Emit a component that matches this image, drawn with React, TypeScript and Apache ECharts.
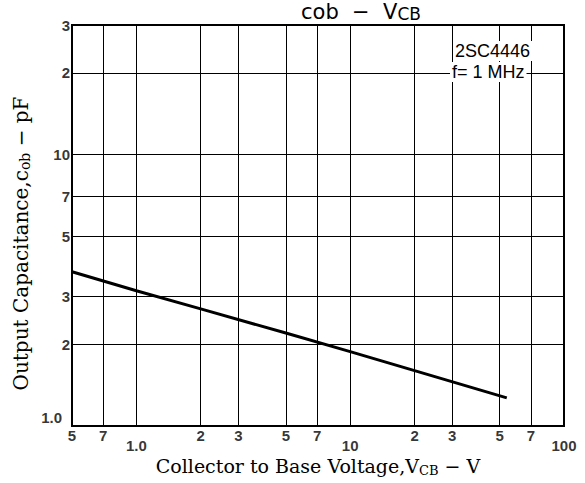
import React, { useEffect, useRef } from "react";
import * as echarts from "echarts";

// Axis ranges and tick labels
const xTicks = [0.5, 0.7, 1, 2, 3, 5, 7, 10, 20, 30, 50, 70, 100];
const xTickLabels = ["5", "7", "1.0", "2", "3", "5", "7", "10", "2", "3", "5", "7", "100"];
const xDecades = [1, 10, 100];
const yTicks = [1, 2, 3, 5, 7, 10, 20, 30];
const yTickLabels = ["1.0", "2", "3", "5", "7", "10", "2", "3"];
const xGridValues = [0.7, 1, 2, 3, 5, 7, 10, 20, 30, 50, 70];
const yGridValues = [2, 3, 5, 7, 10, 20];

// Series: output capacitance vs collector-base voltage
const vcb = [0.5, 1, 2, 5, 10, 20, 54];
const cob = [3.7, 3.15, 2.7, 2.2, 1.88, 1.6, 1.27];

const deviceName = "2SC4446";
const condition = "f= 1 MHz";

export default function App() {
  const ref = useRef<HTMLDivElement>(null);
  useEffect(() => {
    if (!ref.current) return;
    const chart = echarts.init(ref.current, null, { renderer: "svg" });
    const tickFont = {
      fontFamily: "Liberation Sans",
      fontWeight: "bold" as const,
      fontSize: 15,
      color: "#000",
    };
    const option: any = {
      animation: false,
      backgroundColor: "#fff",
      title: {
        text: "cob  −  V{s|CB}",
        left: 356,
        top: -4,
        textAlign: "center",
        textStyle: {
          fontFamily: "DejaVu Sans",
          fontSize: 21,
          fontWeight: "normal",
          color: "#000",
          rich: {
            s: { fontFamily: "DejaVu Sans", fontSize: 17, color: "#000", verticalAlign: "bottom", padding: [3, 0, 0, 0] },
          },
        },
      },
      grid: {
        left: 72,
        top: 25,
        right: 21,
        bottom: 57,
        show: true,
        borderColor: "#000",
        borderWidth: 2,
        backgroundColor: "transparent",
      },
      xAxis: {
        type: "log",
        logBase: 10,
        min: 0.5,
        max: 100,
        axisLine: { show: false },
        axisTick: { show: false },
        axisLabel: { show: false },
        splitLine: { show: false },
        name: "Collector to Base Voltage,V{s|CB} − V",
        nameLocation: "middle",
        nameGap: 29,
        nameTextStyle: {
          fontFamily: "DejaVu Serif",
          fontSize: 19,
          color: "#000",
          rich: {
            s: { fontFamily: "DejaVu Serif", fontSize: 13, color: "#000", padding: [9, 0, 0, 0] },
          },
        },
      },
      yAxis: {
        type: "log",
        logBase: 10,
        min: 1,
        max: 30,
        axisLine: { show: false },
        axisTick: { show: false },
        axisLabel: { show: false },
        splitLine: { show: false },
        name: "Output Capacitance,c{s|ob} − pF",
        nameLocation: "middle",
        nameRotate: 90,
        nameGap: 40,
        nameTextStyle: {
          fontFamily: "DejaVu Serif",
          fontSize: 20,
          color: "#000",
          padding: [0, 36, 0, 0],
          rich: {
            s: { fontFamily: "DejaVu Serif", fontSize: 14, color: "#000", padding: [9, 0, 0, 0] },
          },
        },
      },
      graphic: [
        {
          type: "text",
          z: 100,
          left: 453,
          top: 41,
          style: {
            text: deviceName,
            fontFamily: "Liberation Sans",
            fontSize: 18,
            fill: "#000",
            backgroundColor: "#fff",
            padding: [1, 2],
          },
        },
        {
          type: "text",
          z: 100,
          left: 450,
          top: 62,
          style: {
            text: condition,
            fontFamily: "Liberation Sans",
            fontSize: 18,
            fill: "#000",
            backgroundColor: "#fff",
            padding: [1, 2],
          },
        },
      ],
      series: [
        {
          type: "line",
          data: vcb.map((v, i) => [v, cob[i]]),
          symbol: "none",
          lineStyle: { color: "#000", width: 3 },
          z: 5,
          markLine: {
            silent: true,
            symbol: ["none", "none"],
            label: { show: false },
            lineStyle: { color: "#000", width: 1, type: "solid" },
            data: [
              ...xGridValues.map((v) => ({ xAxis: v })),
              ...yGridValues.map((v) => ({ yAxis: v })),
            ],
          },
        },
        {
          type: "scatter",
          clip: false,
          silent: true,
          symbolSize: 0,
          data: xTicks.map((v, i) => ({
            value: [v, 1],
            name: xTickLabels[i],
            label: { distance: xDecades.includes(v) ? 12 : 2 },
          })),
          label: { show: true, position: "bottom", formatter: "{b}", ...tickFont },
        },
        {
          type: "scatter",
          clip: false,
          silent: true,
          symbolSize: 0,
          data: yTicks.map((v, i) => ({
            value: [0.5, v],
            name: yTickLabels[i],
            label: v === 1 ? { offset: [-8, -9] } : {},
          })),
          label: { show: true, position: "left", distance: 2, formatter: "{b}", ...tickFont },
        },
      ],
    };
    chart.setOption(option);
    return () => chart.dispose();
  }, []);
  return (
    <div
      ref={ref}
      style={{ position: "fixed", left: 0, top: 0, width: 585, height: 483 }}
    />
  );
}
